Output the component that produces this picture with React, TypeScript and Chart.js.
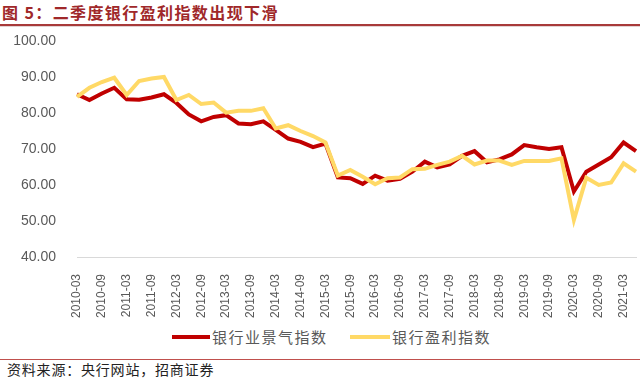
import React, { useEffect, useRef } from "react";
import { Chart, registerables } from "chart.js";

Chart.register(...registerables);

const quarters = [
  "2010-03", "2010-06", "2010-09", "2010-12",
  "2011-03", "2011-06", "2011-09", "2011-12",
  "2012-03", "2012-06", "2012-09", "2012-12",
  "2013-03", "2013-06", "2013-09", "2013-12",
  "2014-03", "2014-06", "2014-09", "2014-12",
  "2015-03", "2015-06", "2015-09", "2015-12",
  "2016-03", "2016-06", "2016-09", "2016-12",
  "2017-03", "2017-06", "2017-09", "2017-12",
  "2018-03", "2018-06", "2018-09", "2018-12",
  "2019-03", "2019-06", "2019-09", "2019-12",
  "2020-03", "2020-06", "2020-09", "2020-12",
  "2021-03", "2021-06",
];

const boomIndex = [
  85.2, 83.6, 85.4, 87.0, 83.8, 83.7, 84.3, 85.2, 82.8, 79.6, 77.7, 78.9,
  79.4, 77.1, 76.9, 77.7, 75.3, 72.9, 72.0, 70.5, 71.5, 62.1, 61.9, 60.3,
  62.6, 61.2, 61.7, 63.7, 66.5, 64.9, 65.7, 68.1, 69.4, 66.3, 67.1, 68.5,
  71.1, 70.5, 70.0, 70.5, 58.2, 63.7, 65.7, 67.7, 71.8, 69.4,
];

const profitIndex = [
  84.5, 87.0, 88.6, 89.8, 85.0, 88.9, 89.6, 90.0, 83.6, 85.0, 82.5, 82.9,
  80.1, 80.6, 80.6, 81.3, 75.7, 76.6, 75.0, 73.6, 71.8, 62.6, 64.2, 62.3,
  60.2, 61.9, 62.1, 64.4, 64.5, 65.6, 66.5, 68.1, 65.7, 66.8, 66.8, 65.6,
  66.7, 66.7, 66.7, 67.4, 50.3, 62.0, 60.0, 60.7, 66.0, 63.7,
];

const seriesNames = ["银行业景气指数", "银行盈利指数"];
const seriesColors = ["#C00000", "#FFD966"];

const titleText = "图 5：二季度银行盈利指数出现下滑";
const sourceText = "资料来源：央行网站，招商证券";

export default function App() {
  const canvasRef = useRef<HTMLCanvasElement | null>(null);

  useEffect(() => {
    const canvas = canvasRef.current;
    if (!canvas) return;
    const chart = new Chart(canvas, {
      type: "line",
      data: {
        labels: quarters,
        datasets: [
          {
            label: seriesNames[0],
            data: boomIndex,
            borderColor: seriesColors[0],
            backgroundColor: seriesColors[0],
            borderWidth: 4,
            pointRadius: 0,
            tension: 0,
            order: 1,
          },
          {
            label: seriesNames[1],
            data: profitIndex,
            borderColor: seriesColors[1],
            backgroundColor: seriesColors[1],
            borderWidth: 4,
            pointRadius: 0,
            tension: 0,
            order: 0,
          },
        ],
      },
      options: {
        animation: false,
        responsive: false,
        maintainAspectRatio: false,
        layout: { padding: { top: 11, right: 4, left: 0, bottom: 0 } },
        plugins: {
          legend: { display: false },
          tooltip: { enabled: false },
        },
        scales: {
          x: {
            type: "category",
            offset: false,
            grid: { display: false },
            border: { display: true, color: "#D9D9D9", width: 1 },
            ticks: {
              autoSkip: false,
              maxRotation: 90,
              minRotation: 90,
              padding: 9,
              color: "#595959",
              font: { family: "'Liberation Sans', Arial, sans-serif", size: 12 },
              callback: (_v: any, i: number) => (i % 2 === 0 ? quarters[i] : ""),
            },
            afterFit: (s: any) => {
              s.height = 61;
              s.paddingLeft = 0;
              s.paddingRight = 0;
              s.paddingTop = 0;
              s.paddingBottom = 0;
            },
          },
          y: {
            min: 40,
            max: 100,
            grid: { display: false },
            border: { display: false },
            ticks: {
              stepSize: 10,
              padding: 13,
              color: "#595959",
              font: { family: "'Liberation Sans', Arial, sans-serif", size: 14 },
              callback: (v: any) => Number(v).toFixed(2),
            },
            afterFit: (s: any) => {
              s.width = 77;
              s.paddingTop = 0;
              s.paddingBottom = 0;
              s.paddingLeft = 0;
              s.paddingRight = 0;
            },
          },
        },
      },
    });
    return () => chart.destroy();
  }, []);

  const legendText: React.CSSProperties = {
    position: "absolute",
    top: 327,
    fontFamily: "'Noto Sans CJK SC', sans-serif",
    fontSize: 15,
    lineHeight: "20px",
    color: "#595959",
    letterSpacing: 1.5,
    whiteSpace: "nowrap",
  };

  return (
    <div
      style={{
        position: "fixed",
        left: 0,
        top: 0,
        width: 640,
        height: 378,
        background: "#ffffff",
        overflow: "hidden",
      }}
    >
      <canvas
        ref={canvasRef}
        width={640}
        height={288}
        style={{ position: "absolute", left: 0, top: 30, width: 640, height: 288 }}
      />
      <div
        style={{
          position: "absolute",
          left: 2,
          top: 1,
          fontFamily: "'Noto Sans CJK SC', sans-serif",
          fontWeight: 700,
          fontSize: 16,
          lineHeight: "22px",
          color: "#A0282A",
          letterSpacing: 1.4,
          whiteSpace: "nowrap",
        }}
      >
        {titleText}
      </div>
      <div style={{ position: "absolute", left: 0, top: 24, width: 640, height: 2, background: "#A83A3A" }} />
      <div style={{ position: "absolute", left: 0, top: 26, width: 640, height: 1, background: "#E3D3D3" }} />
      <div style={{ position: "absolute", left: 172, top: 335, width: 38, height: 4, background: seriesColors[0] }} />
      <div style={{ ...legendText, left: 212 }}>{seriesNames[0]}</div>
      <div style={{ position: "absolute", left: 350, top: 335, width: 40, height: 4, background: seriesColors[1] }} />
      <div style={{ ...legendText, left: 392 }}>{seriesNames[1]}</div>
      <div style={{ position: "absolute", left: 0, top: 359, width: 640, height: 1, background: "#C0504D" }} />
      <div
        style={{
          position: "absolute",
          left: 7,
          top: 360,
          fontFamily: "'Noto Sans CJK SC', sans-serif",
          fontSize: 14,
          lineHeight: "18px",
          color: "#222222",
          letterSpacing: 0.8,
          whiteSpace: "nowrap",
        }}
      >
        {sourceText}
      </div>
    </div>
  );
}
